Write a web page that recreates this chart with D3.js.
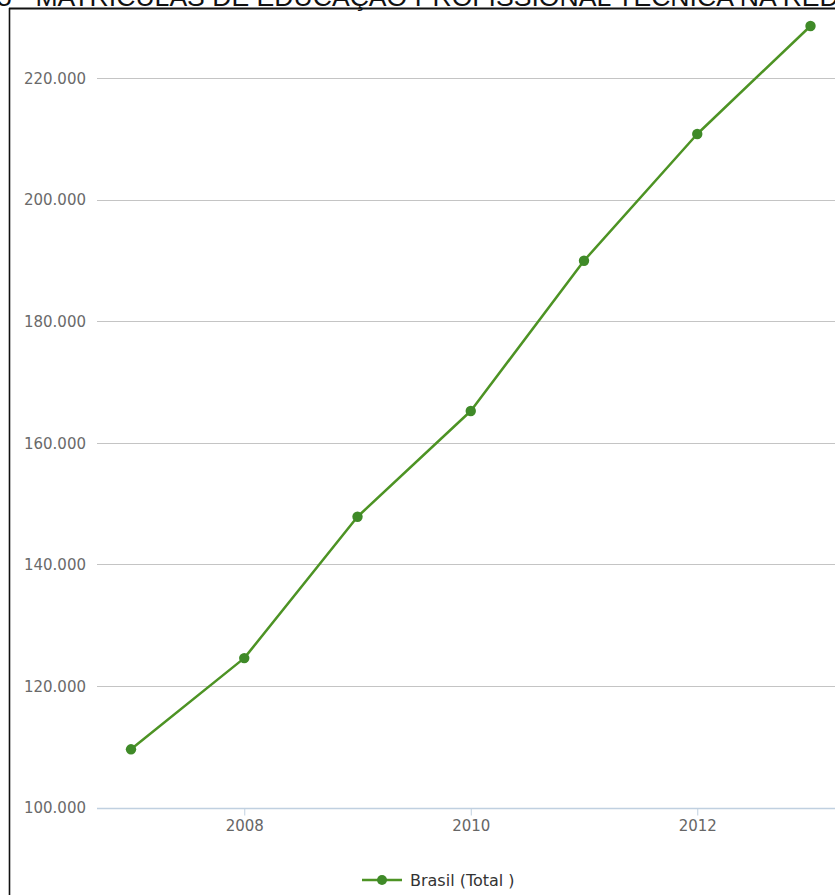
<!DOCTYPE html>
<html>
<head>
<meta charset="utf-8">
<script src="https://cdn.jsdelivr.net/npm/d3@7"></script>
<style>
  html, body { margin: 0; padding: 0; background: #fff; }
  svg { display: block; }
</style>
</head>
<body>
<script>
const title = "5 - MATRÍCULAS DE EDUCAÇÃO PROFISSIONAL TÉCNICA NA REDE FEDERAL";
const years = [2007, 2008, 2009, 2010, 2011, 2012, 2013];
const values = [109600, 124600, 147850, 165240, 189950, 210790, 228550];
const yTicks = [100000, 120000, 140000, 160000, 180000, 200000, 220000];
const xTicks = [2008, 2010, 2012];
const seriesName = "Brasil (Total )";

const W = 835, H = 895;
const svg = d3.select("body").append("svg").attr("width", W).attr("height", H);

const color = "#4d9324";
const dotColor = "#3f8a28";

// title (cut off at top, as in the reference)
svg.append("text")
  .attr("x", -3).attr("y", 5.5)
  .attr("font-family", "Liberation Sans, Arial, sans-serif")
  .attr("font-size", 26.6)
  .attr("fill", "#111")
  .text(title);

// frame
svg.append("line").attr("x1", 9).attr("x2", W).attr("y1", 8.5).attr("y2", 8.5)
  .attr("stroke", "#111").attr("stroke-width", 2.2);
svg.append("line").attr("x1", 9.5).attr("x2", 9.5).attr("y1", 8).attr("y2", H)
  .attr("stroke", "#111").attr("stroke-width", 1.6);

const x = d3.scaleLinear().domain([2007, 2013]).range([131, 810.5]);
const y = d3.scaleLinear().domain([100000, 220000]).range([807.7, 78]);

const fmt = v => d3.format(",")(v).replace(/,/g, ".");

// grid lines
svg.append("g").selectAll("line").data(yTicks.filter(t => t !== 100000)).join("line")
  .attr("x1", 97).attr("x2", W)
  .attr("y1", d => Math.round(y(d)) + 0.5).attr("y2", d => Math.round(y(d)) + 0.5)
  .attr("stroke", "#c4c4c4").attr("stroke-width", 1);

// y axis labels
const yAxis = d3.axisLeft(y).tickValues(yTicks).tickFormat(fmt).tickSize(0).tickPadding(0);
const gy = svg.append("g").attr("transform", "translate(86,0)").call(yAxis);
gy.select(".domain").remove();
gy.selectAll("text")
  .attr("font-family", "DejaVu Sans, sans-serif")
  .attr("font-size", 15)
  .attr("fill", "#6a6a6a")
  .attr("dy", "0.35em");

// x axis
const xAxis = d3.axisBottom(x).tickValues(xTicks).tickFormat(d3.format("d")).tickSize(7).tickPadding(5);
const gx = svg.append("g").attr("transform", `translate(0,${Math.round(y(100000)) + 0.5})`).call(xAxis);
gx.select(".domain").attr("d", `M97,0H${W}`).attr("stroke", "#c0d0e0").attr("stroke-width", 1.5);
gx.selectAll(".tick line").attr("stroke", "#c0d0e0");
gx.selectAll("text")
  .attr("font-family", "DejaVu Sans, sans-serif")
  .attr("font-size", 15)
  .attr("fill", "#666");

// line
const data = years.map((yr, i) => ({ yr, v: values[i] }));
svg.append("path").datum(data)
  .attr("fill", "none").attr("stroke", color).attr("stroke-width", 2.5)
  .attr("stroke-linejoin", "round")
  .attr("d", d3.line().x(d => x(d.yr)).y(d => y(d.v)));

svg.append("g").selectAll("circle").data(data).join("circle")
  .attr("cx", d => x(d.yr)).attr("cy", d => y(d.v)).attr("r", 5.2)
  .attr("fill", dotColor);

// legend
const lg = svg.append("g").attr("transform", "translate(362,880)");
lg.append("line").attr("x1", 0).attr("x2", 40).attr("y1", 0).attr("y2", 0)
  .attr("stroke", color).attr("stroke-width", 2.5);
lg.append("circle").attr("cx", 20).attr("cy", 0).attr("r", 5).attr("fill", dotColor);
lg.append("text").attr("x", 48).attr("y", 0).attr("dy", "0.35em")
  .attr("font-family", "DejaVu Sans, sans-serif")
  .attr("font-size", 16)
  .attr("fill", "#333")
  .text(seriesName);
</script>
</body>
</html>
